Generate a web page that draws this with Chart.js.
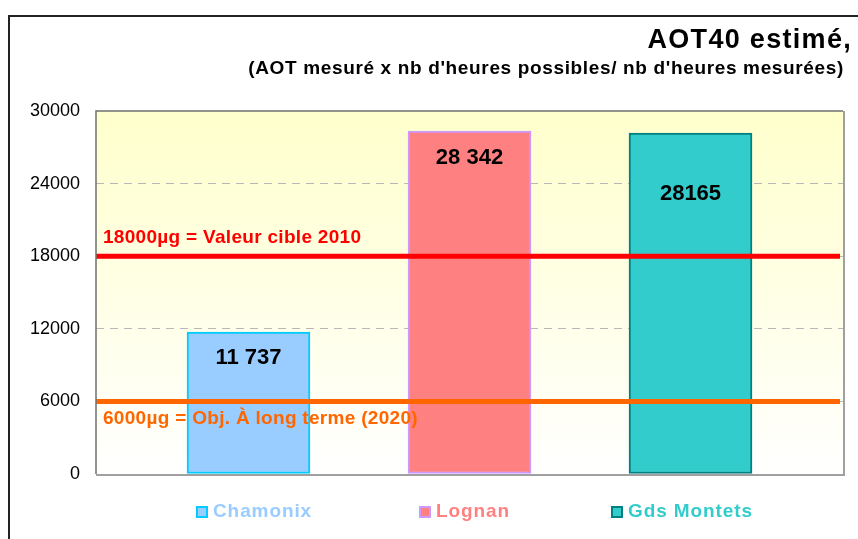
<!DOCTYPE html>
<html><head><meta charset="utf-8">
<script src="https://cdn.jsdelivr.net/npm/chart.js@4/dist/chart.umd.min.js"></script>
<style>html,body{margin:0;padding:0;background:#fff;overflow:hidden;}#wrap{width:858px;height:539px;position:relative;}</style>
</head><body><div id="wrap"><canvas id="c" width="858" height="539"></canvas></div>
<script>
// ---- data ----
const categories = ['Chamonix', 'Lognan', 'Gds Montets'];
const values = [11737, 28342, 28165];
const valueLabels = ['11 737', '28 342', '28165'];
const yTicks = [0, 6000, 12000, 18000, 24000, 30000];
const thresholdValues = [18000, 6000];
const thresholdLabels = ['18000µg = Valeur cible 2010', '6000µg = Obj. À long terme (2020)'];
const titleText = 'AOT40 estimé,';
const subtitleText = "(AOT mesuré x nb d'heures possibles/ nb d'heures mesurées)";

// ---- styles ----
const FONT = "'Liberation Sans', Arial, sans-serif";
const fillColors = ['#99CCFF', '#FF8080', '#33CCCC'];
const borderColors = ['#00CCFF', '#CC99FF', '#008080'];
const legendTextColors = ['#99CCFF', '#FF8080', '#33CCCC'];
const thresholdColors = ['#FF0000', '#FF6600'];
const thresholdLabelDy = [-18, 17];
const valueLabelDy = [26, 27, 61];
const legendX = [196, 419, 611];

const deco = {
  id: 'deco',
  beforeDraw(chart) {
    const ctx = chart.ctx, a = chart.chartArea;
    ctx.save();
    ctx.fillStyle = '#fff';
    ctx.fillRect(0, 0, chart.width, chart.height);
    ctx.strokeStyle = '#222'; ctx.lineWidth = 2;
    ctx.beginPath(); ctx.moveTo(9, chart.height); ctx.lineTo(9, 16); ctx.lineTo(chart.width, 16); ctx.stroke();
    const g = ctx.createLinearGradient(0, a.top, 0, a.bottom);
    g.addColorStop(0, '#FFFFCC'); g.addColorStop(1, '#FFFFFF');
    ctx.fillStyle = g;
    ctx.fillRect(a.left, a.top, a.right - a.left, a.bottom - a.top);
    ctx.fillStyle = '#000'; ctx.textAlign = 'right'; ctx.textBaseline = 'alphabetic';
    ctx.font = 'bold 27px ' + FONT; ctx.letterSpacing = '1.3px';
    ctx.fillText(titleText, 852, 48);
    ctx.font = 'bold 19px ' + FONT; ctx.letterSpacing = '0.65px';
    ctx.fillText(subtitleText, 844, 74);
    ctx.restore();
  },
  afterDatasetsDraw(chart) {
    const ctx = chart.ctx, a = chart.chartArea, ys = chart.scales.y;
    ctx.save();
    thresholdValues.forEach((v, i) => {
      const y = ys.getPixelForValue(v);
      ctx.strokeStyle = thresholdColors[i]; ctx.lineWidth = 5;
      ctx.beginPath(); ctx.moveTo(a.left, y); ctx.lineTo(a.right - 3, y); ctx.stroke();
      ctx.fillStyle = thresholdColors[i];
      ctx.font = 'bold 19px ' + FONT; ctx.letterSpacing = '0.3px';
      ctx.textAlign = 'left'; ctx.textBaseline = 'middle';
      ctx.fillText(thresholdLabels[i], a.left + 7, y + thresholdLabelDy[i]);
    });
    const meta = chart.getDatasetMeta(0);
    ctx.fillStyle = '#000'; ctx.font = 'bold 22px ' + FONT; ctx.letterSpacing = '0px';
    ctx.textAlign = 'center'; ctx.textBaseline = 'middle';
    meta.data.forEach((bar, i) => {
      ctx.fillText(valueLabels[i], bar.x, bar.y + valueLabelDy[i]);
    });
    ctx.strokeStyle = '#A0A0A0'; ctx.lineWidth = 2;
    ctx.beginPath(); ctx.moveTo(a.right + 1, a.top); ctx.lineTo(a.right + 1, a.bottom + 1); ctx.lineTo(a.left, a.bottom + 1); ctx.stroke();
    ctx.strokeStyle = '#707070'; ctx.lineWidth = 1.5;
    ctx.beginPath(); ctx.moveTo(a.left, a.bottom); ctx.lineTo(a.left, a.top); ctx.lineTo(a.right, a.top); ctx.stroke();
    ctx.restore();
  },
  afterDraw(chart) {
    const ctx = chart.ctx;
    ctx.save();
    categories.forEach((c, i) => {
      const x = legendX[i], yc = 512;
      ctx.fillStyle = fillColors[i];
      ctx.fillRect(x, yc - 6, 12, 12);
      ctx.strokeStyle = borderColors[i]; ctx.lineWidth = 2;
      ctx.strokeRect(x + 1, yc - 5, 10, 10);
      ctx.fillStyle = legendTextColors[i];
      ctx.font = 'bold 19px ' + FONT; ctx.letterSpacing = '0.9px';
      ctx.textAlign = 'left'; ctx.textBaseline = 'middle';
      ctx.fillText(c, x + 17, yc);
    });
    ctx.restore();
  }
};

new Chart(document.getElementById('c'), {
  type: 'bar',
  data: {
    datasets: [{
      label: 'AOT40',
      data: categories.map((c, i) => ({ x: i + 1, y: values[i] })),
      backgroundColor: fillColors,
      borderColor: borderColors,
      borderWidth: 2,
      borderSkipped: false,
      barThickness: 123
    }]
  },
  options: {
    responsive: false, animation: false, devicePixelRatio: 1,
    layout: { padding: { left: 0, top: 111, right: 15, bottom: 65 } },
    plugins: { legend: { display: false }, tooltip: { enabled: false }, title: { display: false } },
    scales: {
      x: { type: 'linear', min: 0.31, max: 3.69, offset: false, display: false },
      y: {
        min: 0, max: 30000,
        afterFit(s) { s.width = 96; },
        afterBuildTicks(s) { s.ticks = yTicks.map(v => ({ value: v })); },
        ticks: { font: { family: FONT, size: 18 }, color: '#000', padding: 16, callback: (v) => String(v) },
        grid: {
          drawTicks: false, lineWidth: 1,
          color: (c) => (c.tick && (c.tick.value === 0 || c.tick.value === 30000)) ? 'rgba(0,0,0,0)' : '#B8B8B8'
        },
        border: { display: false, dash: [8, 6] }
      }
    }
  },
  plugins: [deco]
});
</script>
</body></html>
